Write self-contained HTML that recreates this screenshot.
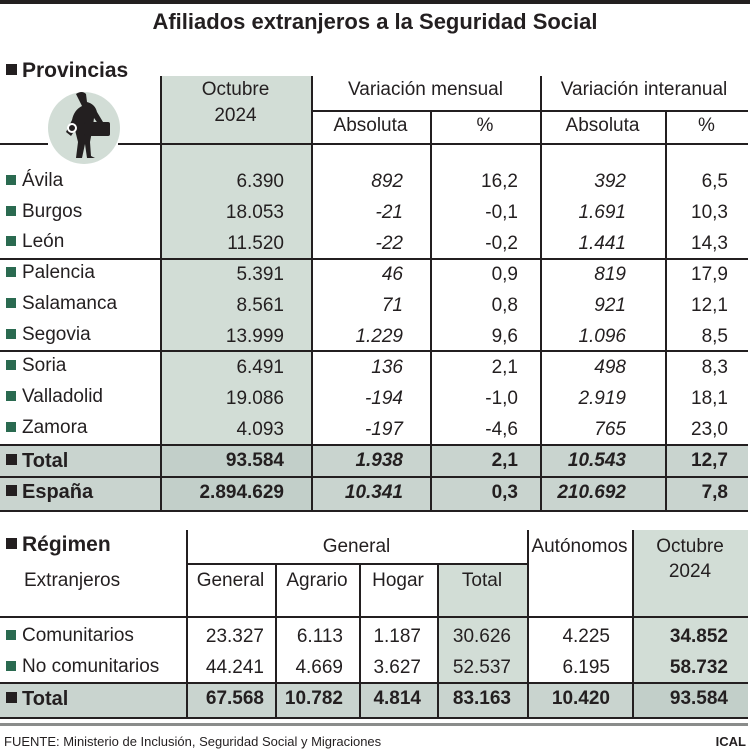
<!DOCTYPE html>
<html><head><meta charset="utf-8"><style>
body{margin:0;width:750px;height:753px;background:#fff;position:relative;overflow:hidden;font-family:"Liberation Sans",Arial,sans-serif;color:#231f20}
.a{position:absolute;white-space:nowrap;font-size:19px;line-height:20px}
.r{text-align:right}
.c{text-align:center}
.i{font-style:italic}
.b{font-weight:bold}
.h{position:absolute;height:1.5px;background:#231f20}
.v{position:absolute;width:1.5px;background:#231f20}
.bg{position:absolute}
.sq{display:inline-block;width:10px;height:10px;background:#2a6a50;margin-right:6px;vertical-align:1px}
.sk{display:inline-block;width:11px;height:11px;background:#231f20;margin-right:5px;vertical-align:2px}
</style></head><body>
<div class="bg" style="left:0;top:0;width:750px;height:4px;background:#231f20"></div>
<div class="a b c" style="left:0;width:750px;top:10px;font-size:22px;line-height:24px">Afiliados extranjeros a la Seguridad Social</div>

<div class="bg" style="left:160px;top:76px;width:151px;height:368px;background:#d2ddd6"></div>
<div class="bg" style="left:0;top:445px;width:748px;height:65px;background:#c9d4cf"></div>
<div class="bg" style="left:160px;top:445px;width:151px;height:65px;background:#c2cfc9"></div>

<div class="a b" style="left:6px;top:60px;font-size:21px;line-height:22px"><span class="sk"></span>Provincias</div>
<div class="bg" style="left:48px;top:92px;width:72px;height:72px;border-radius:50%;background:#d2ddd6"></div>
<svg class="bg" style="left:48px;top:88px" width="72" height="76" viewBox="0 0 72 76">
<path d="M28 6 q6-4 10 0 l1 8 q8 2 10 10 l6 10 l-4 3 l-5-7 l-1 8 l-3 16 l1 14 l4 2 l-8 0 l-2-14 l-3 14 l-6 0 l2-16 l-3-12 l-4 6 l-5-4 l6-12 q2-10 10-14 z" fill="#231f20"/>
<rect x="36" y="34" width="26" height="14" rx="2" fill="#231f20"/>
<circle cx="24" cy="40" r="4" fill="none" stroke="#fff" stroke-width="2"/>
</svg>
<div class="a c" style="left:160px;width:151px;top:80px">Octubre</div>
<div class="a c" style="left:160px;width:151px;top:106px">2024</div>
<div class="a c" style="left:311px;width:229px;top:80px">Variación mensual</div>
<div class="a c" style="left:540px;width:208px;top:80px">Variación interanual</div>
<div class="a c" style="left:311px;width:119px;top:116px">Absoluta</div>
<div class="a c" style="left:430px;width:110px;top:116px">%</div>
<div class="a c" style="left:540px;width:125px;top:116px">Absoluta</div>
<div class="a c" style="left:665px;width:83px;top:116px">%</div>

<div class="h" style="left:0;width:48px;top:143px"></div>
<div class="h" style="left:118px;width:630px;top:143px"></div>
<div class="h" style="left:311px;width:437px;top:110px"></div>
<div class="h" style="left:0;width:748px;top:258px"></div>
<div class="h" style="left:0;width:748px;top:350px"></div>
<div class="h" style="left:0;width:748px;top:444px"></div>
<div class="h" style="left:0;width:748px;top:476px"></div>
<div class="h" style="left:0;width:748px;top:510px"></div>
<div class="v" style="left:160px;top:76px;height:434px"></div>
<div class="v" style="left:311px;top:76px;height:434px"></div>
<div class="v" style="left:430px;top:110px;height:400px"></div>
<div class="v" style="left:540px;top:76px;height:434px"></div>
<div class="v" style="left:665px;top:110px;height:400px"></div>

<div class="a" style="left:6px;top:171px"><span class="sq"></span>Ávila</div>
<div class="a" style="left:6px;top:202px"><span class="sq"></span>Burgos</div>
<div class="a" style="left:6px;top:232px"><span class="sq"></span>León</div>
<div class="a" style="left:6px;top:263px"><span class="sq"></span>Palencia</div>
<div class="a" style="left:6px;top:294px"><span class="sq"></span>Salamanca</div>
<div class="a" style="left:6px;top:325px"><span class="sq"></span>Segovia</div>
<div class="a" style="left:6px;top:356px"><span class="sq"></span>Soria</div>
<div class="a" style="left:6px;top:387px"><span class="sq"></span>Valladolid</div>
<div class="a" style="left:6px;top:418px"><span class="sq"></span>Zamora</div>
<div class="a b" style="left:6px;top:451px;font-size:20px"><span class="sk"></span>Total</div>
<div class="a b" style="left:6px;top:482px;font-size:20px"><span class="sk"></span>España</div>

<div class="a r" style="left:160px;width:124px;top:165.5px;line-height:31px;white-space:pre">6.390
18.053
11.520
5.391
8.561
13.999
6.491
19.086
4.093</div>
<div class="a r i" style="left:311px;width:92px;top:165.5px;line-height:31px;white-space:pre">892
-21
-22
46
71
1.229
136
-194
-197</div>
<div class="a r" style="left:430px;width:88px;top:165.5px;line-height:31px;white-space:pre">16,2
-0,1
-0,2
0,9
0,8
9,6
2,1
-1,0
-4,6</div>
<div class="a r i" style="left:540px;width:86px;top:165.5px;line-height:31px;white-space:pre">392
1.691
1.441
819
921
1.096
498
2.919
765</div>
<div class="a r" style="left:665px;width:63px;top:165.5px;line-height:31px;white-space:pre">6,5
10,3
14,3
17,9
12,1
8,5
8,3
18,1
23,0</div>
<div class="a r b" style="left:160px;width:124px;top:445px;line-height:32px;white-space:pre">93.584
2.894.629</div>
<div class="a r b i" style="left:311px;width:92px;top:445px;line-height:32px;white-space:pre">1.938
10.341</div>
<div class="a r b" style="left:430px;width:88px;top:445px;line-height:32px;white-space:pre">2,1
0,3</div>
<div class="a r b i" style="left:540px;width:86px;top:445px;line-height:32px;white-space:pre">10.543
210.692</div>
<div class="a r b" style="left:665px;width:63px;top:445px;line-height:32px;white-space:pre">12,7
7,8</div>

<div class="bg" style="left:437px;top:563px;width:90px;height:119px;background:#d2ddd6"></div>
<div class="bg" style="left:632px;top:530px;width:116px;height:152px;background:#d2ddd6"></div>
<div class="bg" style="left:0;top:682px;width:748px;height:35px;background:#c9d4cf"></div>
<div class="bg" style="left:632px;top:682px;width:116px;height:35px;background:#c2cfc9"></div>

<div class="a b" style="left:6px;top:534px;font-size:21px;line-height:22px"><span class="sk"></span>Régimen</div>
<div class="a" style="left:24px;top:571px">Extranjeros</div>
<div class="a c" style="left:186px;width:341px;top:537px">General</div>
<div class="a c" style="left:186px;width:89px;top:571px">General</div>
<div class="a c" style="left:275px;width:84px;top:571px">Agrario</div>
<div class="a c" style="left:359px;width:78px;top:571px">Hogar</div>
<div class="a c" style="left:437px;width:90px;top:571px">Total</div>
<div class="a c" style="left:527px;width:105px;top:537px">Autónomos</div>
<div class="a c" style="left:632px;width:116px;top:537px">Octubre</div>
<div class="a c" style="left:632px;width:116px;top:562px">2024</div>

<div class="h" style="left:186px;width:341px;top:563px"></div>
<div class="h" style="left:0;width:748px;top:616px"></div>
<div class="h" style="left:0;width:748px;top:682px"></div>
<div class="h" style="left:0;width:748px;top:717px"></div>
<div class="bg" style="left:0;top:723px;width:748px;height:3px;background:#8a8c8b"></div>
<div class="v" style="left:186px;top:530px;height:187px"></div>
<div class="v" style="left:275px;top:563px;height:154px"></div>
<div class="v" style="left:359px;top:563px;height:154px"></div>
<div class="v" style="left:437px;top:563px;height:154px"></div>
<div class="v" style="left:527px;top:530px;height:187px"></div>
<div class="v" style="left:632px;top:530px;height:187px"></div>

<div class="a" style="left:6px;top:626px"><span class="sq"></span>Comunitarios</div>
<div class="a" style="left:6px;top:657px"><span class="sq"></span>No comunitarios</div>
<div class="a b" style="left:6px;top:689px;font-size:20px"><span class="sk"></span>Total</div>

<div class="a r" style="left:186px;width:78px;top:620.5px;line-height:31px;white-space:pre">23.327
44.241</div>
<div class="a r" style="left:275px;width:68px;top:620.5px;line-height:31px;white-space:pre">6.113
4.669</div>
<div class="a r" style="left:359px;width:62px;top:620.5px;line-height:31px;white-space:pre">1.187
3.627</div>
<div class="a r" style="left:437px;width:74px;top:620.5px;line-height:31px;white-space:pre">30.626
52.537</div>
<div class="a r" style="left:527px;width:83px;top:620.5px;line-height:31px;white-space:pre">4.225
6.195</div>
<div class="a r b" style="left:632px;width:96px;top:620.5px;line-height:31px;white-space:pre">34.852
58.732</div>
<div class="a r b" style="left:186px;width:78px;top:689px">67.568</div>
<div class="a r b" style="left:275px;width:68px;top:689px">10.782</div>
<div class="a r b" style="left:359px;width:62px;top:689px">4.814</div>
<div class="a r b" style="left:437px;width:74px;top:689px">83.163</div>
<div class="a r b" style="left:527px;width:83px;top:689px">10.420</div>
<div class="a r b" style="left:632px;width:96px;top:689px">93.584</div>

<div class="a" style="left:4px;top:734px;font-size:13px;line-height:15px">FUENTE: Ministerio de Inclusión, Seguridad Social y Migraciones</div>
<div class="a b" style="left:700px;width:46px;top:734px;font-size:13px;line-height:15px;text-align:right">ICAL</div>
</body></html>
